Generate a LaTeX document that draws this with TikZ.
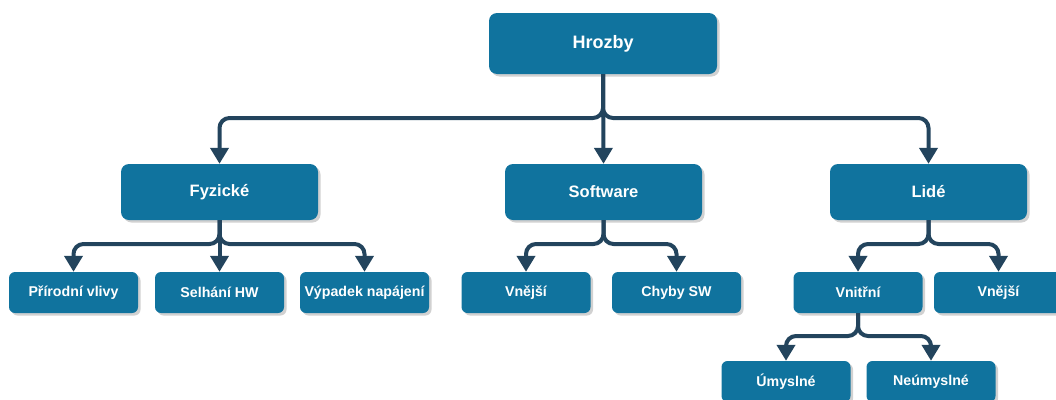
\documentclass[tikz,border=0pt]{standalone}
\usepackage{fontspec}
\setmainfont{Liberation Sans}
\usetikzlibrary{arrows.meta,shadows}
\definecolor{boxblue}{HTML}{10739E}
\definecolor{linkblue}{HTML}{23445D}
\tikzset{
  box/.style={draw=none, fill=boxblue, text=white, font=\bfseries, inner sep=0pt,
    drop shadow={shadow xshift=2.5pt, shadow yshift=-2.5pt, fill=black!30, opacity=0.6}},
  topbox/.style={box, minimum width=228pt, minimum height=61pt, rounded corners=8pt, font=\bfseries\fontsize{18}{20}\selectfont},
  midbox/.style={box, minimum width=197pt, minimum height=56pt, rounded corners=8pt, font=\bfseries\fontsize{16.5}{18}\selectfont},
  leafbox/.style={box, minimum width=129pt, minimum height=41pt, rounded corners=6pt, font=\bfseries\fontsize{14.2}{16}\selectfont},
  link/.style={draw=linkblue, line width=4pt, rounded corners=10pt,
    -{Triangle[width=18pt,length=16pt]}},
}
\begin{document}
\begin{tikzpicture}[x=1pt,y=-1pt]
\useasboundingbox (0,0) rectangle (1056,399);
\node[topbox] (h) at (603,43.5) {Hrozby};
\node[midbox] (f) at (219.5,192) {Fyzické};
\node[midbox] (s) at (603.5,192) {Software};
\node[midbox] (l) at (928.5,192) {Lidé};
\node[leafbox] (f1) at (73.5,292.5) {Přírodní vlivy};
\node[leafbox] (f2) at (219.5,292.5) {Selhání HW};
\node[leafbox] (f3) at (364.5,292.5) {Výpadek napájení};
\node[leafbox] (s1) at (526,292.5) {Vnější};
\node[leafbox] (s2) at (676.5,292.5) {Chyby SW};
\node[leafbox] (l1) at (858,292.5) {Vnitřní};
\node[leafbox] (l2) at (998.5,292.5) {Vnější};
\node[leafbox] (u1) at (786,381.5) {Úmyslné};
\node[leafbox] (u2) at (931,381.5) {Neúmyslné};
% top level
\draw[link] (h.south) -- (h.south |- 0,118) -| (f.north);
\draw[link] (h.south) -- (s.north);
\draw[link] (h.south) -- (h.south |- 0,118) -| (l.north);
% Fyzicke
\draw[link] (f.south) -- (f.south |- 0,244) -| (f1.north);
\draw[link] (f.south) -- (f2.north);
\draw[link] (f.south) -- (f.south |- 0,244) -| (f3.north);
% Software
\draw[link] (s.south) -- (s.south |- 0,244) -| (s1.north);
\draw[link] (s.south) -- (s.south |- 0,244) -| (s2.north);
% Lide
\draw[link] (l.south) -- (l.south |- 0,244) -| (l1.north);
\draw[link] (l.south) -- (l.south |- 0,244) -| (l2.north);
% Vnitrni
\draw[link] (l1.south) -- (l1.south |- 0,336) -| (u1.north);
\draw[link] (l1.south) -- (l1.south |- 0,336) -| (u2.north);
\end{tikzpicture}
\end{document}
